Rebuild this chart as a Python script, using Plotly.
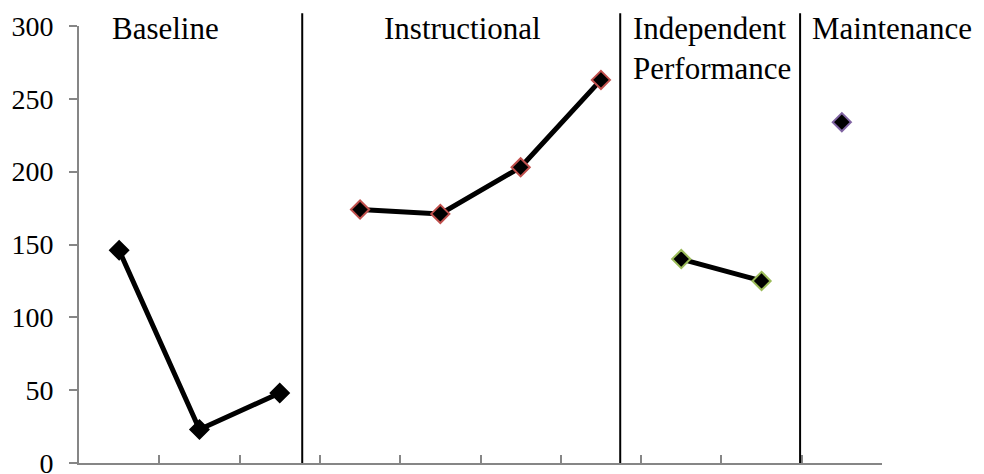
import plotly.graph_objects as go

# sessions 1..10, one phase per group
baseline_x = [1, 2, 3]
baseline_y = [146, 23, 48]
instr_x = [4, 5, 6, 7]
instr_y = [174, 171, 203, 263]
indep_x = [8, 9]
indep_y = [140, 125]
maint_x = [10]
maint_y = [234]

phase_names = ["Baseline", "Instructional", "Independent<br>Performance", "Maintenance"]
phase_label_x = [1.58, 5.27, 7.37, 9.6]
phase_lines = [3.28, 7.24, 9.48]

y_ticks = [0, 50, 100, 150, 200, 250, 300]

serif = "Liberation Serif, Times New Roman, serif"

fig = go.Figure()

series = [
    (baseline_x, baseline_y, "#000000"),
    (instr_x, instr_y, "#C0504D"),
    (indep_x, indep_y, "#9BBB59"),
    (maint_x, maint_y, "#8064A2"),
]
for xs, ys, edge in series:
    fig.add_trace(go.Scatter(
        x=xs, y=ys, mode="lines+markers",
        line=dict(color="black", width=5),
        marker=dict(symbol="diamond", size=14, color="black",
                    line=dict(color=edge, width=2)),
        showlegend=False, hoverinfo="skip"))

for xv in phase_lines:
    fig.add_shape(type="line", xref="x", yref="paper", x0=xv, x1=xv,
                  y0=0, y1=1.029, line=dict(color="black", width=2))

anchors = ["center", "center", "left", "left"]
for name, xv, anc in zip(phase_names, phase_label_x, anchors):
    fig.add_annotation(text=name, x=xv, xref="x", y=1.04, yref="paper",
                       xanchor=anc, yanchor="top", align="left",
                       showarrow=False, font=dict(family=serif, size=31, color="black"))

fig.update_xaxes(range=[0.5, 10.5], tickmode="linear", tick0=0.5, dtick=1,
                 ticks="inside", ticklen=8, tickwidth=2, tickcolor="#868686",
                 showticklabels=False, showgrid=False, zeroline=False, automargin=False,
                 showline=True, linecolor="#868686", linewidth=2)
fig.update_yaxes(range=[0, 300], tickvals=y_ticks,
                 ticks="outside", ticklen=8, tickwidth=2, tickcolor="#868686",
                 ticklabelstandoff=10, automargin=False, ticklabeloverflow="allow",
                 tickfont=dict(family=serif, size=28, color="black"),
                 showgrid=False, zeroline=False,
                 showline=True, linecolor="#868686", linewidth=2)

# page body has an 8px margin, so the figure is 8px smaller and shifted
fig.update_layout(width=976, height=466, margin=dict(l=71, r=102, t=18, b=11),
                  plot_bgcolor="white", paper_bgcolor="white")

fig.write_html("out.html")
